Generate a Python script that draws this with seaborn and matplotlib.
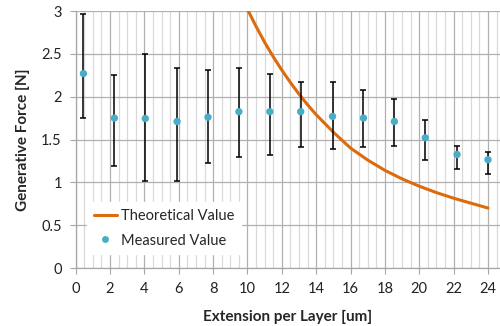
import numpy as np
import pandas as pd
import matplotlib
matplotlib.use("Agg")
import matplotlib.pyplot as plt
from matplotlib.lines import Line2D
from matplotlib.ticker import MultipleLocator
import seaborn as sns

# Measured generative force per layer extension, with asymmetric error bounds
extension = [0.45, 2.25, 4.05, 5.9, 7.7, 9.5, 11.3, 13.1, 14.95, 16.75, 18.55, 20.35, 22.2, 24.0]
force = [2.27, 1.75, 1.745, 1.71, 1.76, 1.825, 1.825, 1.825, 1.77, 1.75, 1.71, 1.52, 1.325, 1.265]
force_high = [2.96, 2.25, 2.50, 2.33, 2.31, 2.33, 2.27, 2.175, 2.175, 2.08, 1.975, 1.725, 1.43, 1.36]
force_low = [1.75, 1.195, 1.02, 1.01, 1.23, 1.295, 1.315, 1.41, 1.395, 1.41, 1.43, 1.255, 1.155, 1.095]

# Theoretical force curve
theory_x = [10.0, 10.5, 11.0, 11.5, 12.0, 12.5, 13.0, 13.5, 14.0, 15.0, 16.0, 17.0,
            18.0, 19.0, 20.0, 21.0, 22.0, 23.0, 24.0]
theory_y = [3.02, 2.82, 2.635, 2.465, 2.31, 2.165, 2.03, 1.905, 1.79, 1.585, 1.40, 1.26,
            1.14, 1.04, 0.955, 0.88, 0.815, 0.757, 0.70]

ORANGE = "#DC6B0C"
BLUE = "#4BACC6"

sns.set_theme(style="white")
plt.rcParams["font.family"] = ["Lato", "DejaVu Sans"]

measured = pd.DataFrame({"x": extension, "y": force})
theory = pd.DataFrame({"x": theory_x, "y": theory_y})

fig = plt.figure(figsize=(5.0, 3.26), dpi=100)
ax = fig.add_axes([0.1514, 0.1779, 0.8486, 0.7883])

ax.set_xlim(0, 24.7)
ax.set_ylim(0, 3)
ax.xaxis.set_major_locator(MultipleLocator(2))
ax.xaxis.set_minor_locator(MultipleLocator(0.5))
ax.set_yticks([0, 0.5, 1, 1.5, 2, 2.5, 3])
ax.set_yticklabels(["0", "0.5", "1", "1.5", "2", "2.5", "3"])

ax.grid(which="minor", axis="x", color="#D9D9D9", linewidth=0.9, zorder=0)
ax.grid(which="major", axis="x", color="#B0B0B0", linewidth=0.9, zorder=0)
ax.grid(which="major", axis="y", color="#B0B0B0", linewidth=0.9, zorder=0)
ax.set_axisbelow(True)

for side in ("top", "right"):
    ax.spines[side].set_visible(False)
for side in ("left", "bottom"):
    ax.spines[side].set_color("#A6A6A6")
    ax.spines[side].set_linewidth(0.9)

ax.tick_params(axis="both", which="major", direction="out", length=4, width=0.8,
               color="#A6A6A6", labelsize=10.5, labelcolor="#222222", pad=6,
               bottom=True, left=True)
ax.tick_params(axis="x", which="minor", length=0)

sns.lineplot(data=theory, x="x", y="y", ax=ax, color=ORANGE, linewidth=2.2,
             zorder=3, legend=False)

yerr = np.array([np.array(force) - np.array(force_low),
                 np.array(force_high) - np.array(force)])
ax.errorbar(extension, force, yerr=yerr, fmt="none", ecolor="black",
            elinewidth=1.1, capsize=2.3, capthick=1.1, zorder=4)
sns.scatterplot(data=measured, x="x", y="y", ax=ax, color=BLUE, s=28,
                edgecolor="none", zorder=5, legend=False)

ax.set_xlabel("Extension per Layer [um]", fontsize=11, fontweight="bold",
              labelpad=10)
ax.set_ylabel("Generative Force [N]", fontsize=11, fontweight="bold",
              labelpad=8)

handles = [
    Line2D([0], [0], color=ORANGE, linewidth=2.2),
    Line2D([0], [0], linestyle="none", marker="o", markersize=5,
           markerfacecolor=BLUE, markeredgecolor="none"),
]
leg = ax.legend(handles, ["Theoretical Value", "Measured Value"],
                loc="lower left", bbox_to_anchor=(0.027, 0.054),
                frameon=True, fancybox=False, framealpha=1, edgecolor="white",
                facecolor="white", fontsize=10.5, handlelength=1.6,
                handletextpad=0.25, labelspacing=0.75, borderpad=0.45,
                borderaxespad=0)
leg.set_zorder(6)

fig.savefig("out.png", dpi=100)
